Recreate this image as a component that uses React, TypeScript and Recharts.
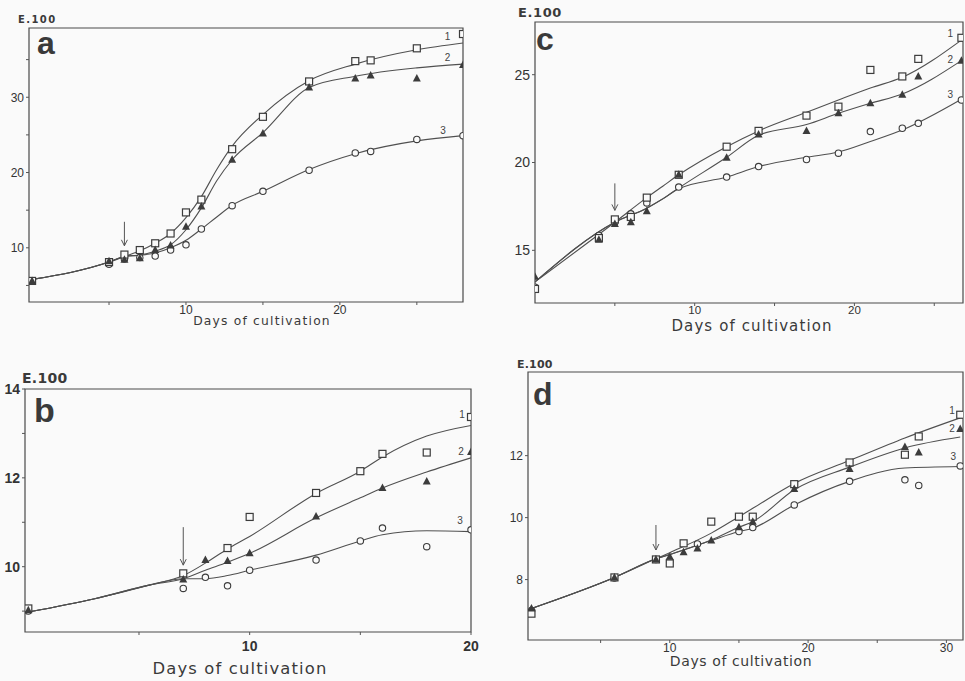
import React from 'react';
import { ComposedChart, Line, Scatter, XAxis, YAxis, ReferenceArea, ReferenceDot } from 'recharts';

// ---- panel a ----
const A_PT_DAYS = [0, 5, 6, 7, 8, 9, 10, 11, 13, 15, 18, 21, 22, 25, 28];
const A_P1 = [5.6, 8.1, 9.1, 9.7, 10.6, 11.9, 14.7, 16.4, 23.1, 27.4, 32.1, 34.8, 34.9, 36.5, 38.4];
const A_P2 = [5.6, 8.2, 8.4, 8.6, 9.7, 10.3, 12.8, 15.5, 21.7, 25.2, 31.3, 32.5, 32.9, 32.5, 34.3];
const A_P3 = [5.6, 7.8, 8.5, 8.7, 8.9, 9.7, 10.4, 12.5, 15.6, 17.5, 20.3, 22.6, 22.8, 24.4, 24.9];
const A_CURVE_DAYS = [0, 5, 6, 7, 8, 9, 10, 11, 12, 13, 15, 18, 21, 25, 28];
const A_C1 = [5.8, 8.1, 8.85, 9.6, 10.6, 11.9, 14.0, 16.8, 20.4, 23.5, 27.7, 32.2, 34.4, 36.3, 37.2];
const A_C2 = [5.8, 8.1, 8.85, 9.05, 9.55, 10.4, 12.4, 15.3, 18.9, 21.7, 25.3, 31.3, 32.8, 33.9, 34.4];
const A_C3 = [5.8, 8.1, 8.85, 9.0, 9.3, 10.0, 11.0, 12.5, 14.1, 15.65, 17.5, 20.4, 22.5, 24.2, 24.9];

// ---- panel b ----
const B_PT_DAYS = [0, 7, 8, 9, 10, 13, 15, 16, 18, 20];
const B_P1 = [9.06, 9.85, null, 10.42, 11.12, 11.66, 12.15, 12.54, 12.57, 13.37];
const B_P2 = [9.02, 9.71, 10.15, 10.13, 10.3, 11.13, null, 11.77, 11.92, 12.58];
const B_P3 = [9.0, 9.51, 9.76, 9.57, 9.92, 10.15, 10.58, 10.87, 10.45, 10.83];
const B_CURVE_DAYS = [0, 3, 5.5, 7, 8, 9, 10, 13, 15, 16, 18, 20];
const B_C1 = [8.98, 9.28, 9.59, 9.8, 10.08, 10.4, 10.68, 11.65, 12.15, 12.47, 12.94, 13.18];
const B_C2 = [8.98, 9.28, 9.59, 9.73, 9.92, 10.1, 10.3, 11.1, 11.55, 11.77, 12.13, 12.45];
const B_C3 = [8.98, 9.28, 9.59, 9.73, 9.73, 9.8, 9.92, 10.26, 10.58, 10.72, 10.81, 10.79];

// ---- panel c ----
const C_PT_DAYS = [0, 4, 5, 6, 7, 9, 12, 14, 17, 19, 21, 23, 24, 26.7];
const C_P1 = [12.8, 15.7, 16.76, 16.9, 18.0, 19.3, 20.9, 21.8, 22.67, 23.18, 25.27, 24.9, 25.9, 27.1];
const C_P2 = [13.5, 15.6, 16.5, 16.6, 17.23, 19.3, 20.27, 21.6, 21.8, 22.8, 23.37, 23.86, 24.9, 25.8];
const C_P3 = [12.9, 15.85, 16.6, 17.08, 17.7, 18.6, 19.17, 19.77, 20.17, 20.53, 21.76, 21.95, 22.23, 23.56];
const C_CURVE_DAYS = [0, 5, 7, 8, 9, 12, 14, 17, 19, 21, 23, 26.7];
const C_C1 = [13.2, 16.6, 18.0, 18.65, 19.3, 20.9, 21.8, 22.86, 23.56, 24.24, 24.85, 26.97];
const C_C2 = [13.2, 16.6, 17.4, 17.93, 18.55, 20.3, 21.55, 22.16, 22.8, 23.37, 23.9, 25.8];
const C_C3 = [13.2, 16.6, 17.4, 17.93, 18.5, 19.17, 19.77, 20.3, 20.6, 21.2, 21.85, 23.6];

// ---- panel d ----
const D_PT_DAYS = [0, 6, 9, 10, 11, 12, 13, 15, 16, 19, 23, 27, 28, 31];
const D_P1 = [6.9, 8.07, 8.65, 8.52, 9.17, null, 9.87, 10.03, 10.03, 11.08, 11.78, 12.03, 12.62, 13.32];
const D_P2 = [7.07, 8.07, 8.65, 8.74, 8.88, 9.0, 9.26, 9.69, 9.87, 10.92, 11.57, 12.28, 12.1, 12.86];
const D_P3 = [7.0, 8.05, 8.65, 8.6, null, 9.15, null, 9.55, 9.68, 10.41, 11.17, 11.22, 11.04, 11.67];
const D_CURVE_DAYS = [0, 6, 9, 10, 13, 15, 16, 19, 23, 27, 31];
const D_C1 = [7.07, 8.07, 8.67, 8.87, 9.5, 10.03, 10.3, 11.1, 11.84, 12.57, 13.22];
const D_C2 = [7.07, 8.07, 8.67, 8.81, 9.28, 9.69, 9.87, 10.9, 11.63, 12.25, 12.6];
const D_C3 = [7.07, 8.07, 8.67, 8.81, 9.26, 9.55, 9.66, 10.41, 11.17, 11.6, 11.65];

const INK = '#3c3c3c';
const PAPER = '#fafafa';
const FONT = '"Liberation Sans", Arial, sans-serif';
const WIDE = '"DejaVu Sans", sans-serif';

const pts = (days: number[], vals: (number | null)[]) =>
  days.map((d, i) => ({ d, v: vals[i] })).filter((p) => p.v !== null);

const Square = (p: any) => (
  <rect x={p.cx - 3.5} y={p.cy - 3.5} width={7} height={7} fill={PAPER} stroke={INK} strokeWidth={1.2} />
);
const Tri = (p: any) => (
  <path d={`M${p.cx},${p.cy - 4.5}L${p.cx + 4},${p.cy + 3}L${p.cx - 4},${p.cy + 3}Z`} fill={INK} />
);
const Circ = (p: any) => <circle cx={p.cx} cy={p.cy} r={3.2} fill={PAPER} stroke={INK} strokeWidth={1.1} />;

const Arrow = (len: number) => (p: any) => (
  <g stroke="#555" strokeWidth={1} fill="none">
    <line x1={p.cx} y1={p.cy - len} x2={p.cx} y2={p.cy - 2} />
    <path d={`M${p.cx - 3},${p.cy - 8}L${p.cx},${p.cy - 2}L${p.cx + 3},${p.cy - 8}`} />
  </g>
);

const CurveLabel = (t: string) => (p: any) => (
  <text x={p.cx} y={p.cy} textAnchor="middle" dominantBaseline="middle" fontSize={10} fill="#444" fontFamily={FONT}>
    {t}
  </text>
);

type PanelProps = {
  box: { left: number; top: number; width: number; height: number };
  margin: { top: number; right: number; bottom: number; left: number };
  yWidth: number;
  xHeight: number;
  xDomain: [number, number];
  yDomain: [number, number];
  xTicks: number[];
  xMajor: number[];
  yTicks: number[];
  yMajor: number[];
  fontSize: number;
  xFontSize?: number;
  fontWeight: number;
  xTickMargin: number;
  curveDays: number[];
  curves: number[][];
  ptDays: number[];
  points: (number | null)[][];
  arrow: { d: number; v: number; len: number };
  labels: { d: number; v: number; t: string }[];
};

const Panel = (p: PanelProps) => {
  const fmt = (majors: number[]) => (v: number) => (majors.includes(v) ? String(v) : '');
  const tick = { fontSize: p.fontSize, fill: '#333', fontFamily: FONT, fontWeight: p.fontWeight };
  const xTick = { ...tick, fontSize: p.xFontSize || p.fontSize };
  return (
    <div style={{ position: 'absolute', left: p.box.left, top: p.box.top }}>
      <ComposedChart width={p.box.width} height={p.box.height} margin={p.margin}>
        <XAxis
          dataKey="d"
          type="number"
          domain={p.xDomain}
          allowDataOverflow
          ticks={p.xTicks}
          tickFormatter={fmt(p.xMajor)}
          height={p.xHeight}
          axisLine={false}
          tickSize={3}
          tickMargin={p.xTickMargin}
          tickLine={{ stroke: '#555' }}
          tick={xTick}
        />
        <YAxis
          dataKey="v"
          type="number"
          domain={p.yDomain}
          allowDataOverflow
          ticks={p.yTicks}
          tickFormatter={fmt(p.yMajor)}
          width={p.yWidth}
          axisLine={false}
          tickSize={3}
          tickMargin={2}
          tickLine={{ stroke: '#555' }}
          tick={tick}
        />
        <ReferenceArea
          x1={p.xDomain[0]}
          x2={p.xDomain[1]}
          y1={p.yDomain[0]}
          y2={p.yDomain[1]}
          fill="none"
          stroke="#4a4a4a"
          strokeWidth={1.2}
          ifOverflow="visible"
        />
        {p.curves.map((c, i) => (
          <Line
            key={'c' + i}
            data={p.curveDays.map((d, j) => ({ d, v: c[j] }))}
            dataKey="v"
            type="monotone"
            stroke="#505050"
            strokeWidth={1.1}
            dot={false}
            activeDot={false}
            isAnimationActive={false}
            legendType="none"
          />
        ))}
        <Scatter data={pts(p.ptDays, p.points[2])} shape={Circ} isAnimationActive={false} />
        <Scatter data={pts(p.ptDays, p.points[0])} shape={Square} isAnimationActive={false} />
        <Scatter data={pts(p.ptDays, p.points[1])} shape={Tri} isAnimationActive={false} />
        <ReferenceDot x={p.arrow.d} y={p.arrow.v} r={0} shape={Arrow(p.arrow.len)} ifOverflow="visible" />
        {p.labels.map((l) => (
          <ReferenceDot key={l.t} x={l.d} y={l.v} r={0} shape={CurveLabel(l.t)} ifOverflow="visible" />
        ))}
      </ComposedChart>
    </div>
  );
};

const Txt = ({ left, top, size, weight, spacing, family, children, center }: any) => (
  <div
    style={{
      position: 'absolute',
      left,
      top,
      fontSize: size,
      fontWeight: weight,
      letterSpacing: spacing || 0,
      lineHeight: 1,
      fontFamily: family || FONT,
      color: '#3a3a3a',
      whiteSpace: 'nowrap',
      transform: center ? 'translateX(-50%)' : undefined,
    }}
  >
    {children}
  </div>
);

export default function App() {
  return (
    <div style={{ position: 'absolute', left: 0, top: 0, width: 965, height: 681, background: PAPER, overflow: 'hidden' }}>
      <Panel
        box={{ left: 0, top: 0, width: 480, height: 340 }}
        margin={{ top: 28, right: 17, bottom: 8, left: 0 }}
        yWidth={29}
        xHeight={30}
        xDomain={[-0.2, 28]}
        yDomain={[2.8, 39.2]}
        xTicks={[5, 10, 15, 20, 25]}
        xMajor={[10, 20]}
        yTicks={[5, 10, 15, 20, 25, 30, 35]}
        yMajor={[10, 20, 30]}
        fontSize={12}
        fontWeight={400}
        xTickMargin={0}
        curveDays={A_CURVE_DAYS}
        curves={[A_C1, A_C2, A_C3]}
        ptDays={A_PT_DAYS}
        points={[A_P1, A_P2, A_P3]}
        arrow={{ d: 6, v: 10.0, len: 26 }}
        labels={[
          { d: 27, v: 37.9, t: '1' },
          { d: 27, v: 35.2, t: '2' },
          { d: 26.7, v: 25.5, t: '3' },
        ]}
      />
      <Panel
        box={{ left: 480, top: 0, width: 485, height: 340 }}
        margin={{ top: 22, right: 2, bottom: 7, left: 0 }}
        yWidth={55}
        xHeight={30}
        xDomain={[0, 26.8]}
        yDomain={[12, 28]}
        xTicks={[5, 10, 15, 20, 25]}
        xMajor={[10, 20]}
        yTicks={[15, 20, 25]}
        yMajor={[15, 20, 25]}
        fontSize={14}
        xFontSize={11.5}
        fontWeight={400}
        xTickMargin={0}
        curveDays={C_CURVE_DAYS}
        curves={[C_C1, C_C2, C_C3]}
        ptDays={C_PT_DAYS}
        points={[C_P1, C_P2, C_P3]}
        arrow={{ d: 5, v: 17.16, len: 29 }}
        labels={[
          { d: 26, v: 27.3, t: '1' },
          { d: 26, v: 25.8, t: '2' },
          { d: 26, v: 23.8, t: '3' },
        ]}
      />
      <Panel
        box={{ left: 0, top: 340, width: 480, height: 341 }}
        margin={{ top: 49, right: 9, bottom: 9, left: 0 }}
        yWidth={25}
        xHeight={40}
        xDomain={[-0.15, 20]}
        yDomain={[8.53, 14]}
        xTicks={[5, 10, 15, 20]}
        xMajor={[10, 20]}
        yTicks={[9, 10, 11, 12, 13, 14]}
        yMajor={[10, 12, 14]}
        fontSize={14}
        fontWeight={700}
        xTickMargin={6}
        curveDays={B_CURVE_DAYS}
        curves={[B_C1, B_C2, B_C3]}
        ptDays={B_PT_DAYS}
        points={[B_P1, B_P2, B_P3]}
        arrow={{ d: 7, v: 9.99, len: 40 }}
        labels={[
          { d: 19.6, v: 13.41, t: '1' },
          { d: 19.55, v: 12.57, t: '2' },
          { d: 19.5, v: 11.03, t: '3' },
        ]}
      />
      <Panel
        box={{ left: 480, top: 340, width: 485, height: 341 }}
        margin={{ top: 32, right: 2, bottom: 11, left: 0 }}
        yWidth={48}
        xHeight={30}
        xDomain={[-0.25, 31.2]}
        yDomain={[6.05, 14.7]}
        xTicks={[5, 10, 15, 20, 25, 30]}
        xMajor={[10, 20, 30]}
        yTicks={[8, 10, 12]}
        yMajor={[8, 10, 12]}
        fontSize={12}
        fontWeight={400}
        xTickMargin={0}
        curveDays={D_CURVE_DAYS}
        curves={[D_C1, D_C2, D_C3]}
        ptDays={D_PT_DAYS}
        points={[D_P1, D_P2, D_P3]}
        arrow={{ d: 9, v: 8.89, len: 27 }}
        labels={[
          { d: 30.4, v: 13.42, t: '1' },
          { d: 30.4, v: 12.84, t: '2' },
          { d: 30.5, v: 11.93, t: '3' },
        ]}
      />

      <Txt left={18} top={14.5} size={10} weight={700} spacing={1.4} family={WIDE}>E.100</Txt>
      <Txt left={518} top={6} size={13} weight={700} spacing={0.6} family={WIDE}>E.100</Txt>
      <Txt left={22} top={371} size={14} weight={700} spacing={0.3} family={WIDE}>E.100</Txt>
      <Txt left={517} top={359} size={11} weight={700} spacing={0.2} family={WIDE}>E.100</Txt>

      <Txt left={37} top={27} size={32} weight={700}>a</Txt>
      <Txt left={536} top={23} size={32} weight={700}>c</Txt>
      <Txt left={34} top={393} size={34} weight={700}>b</Txt>
      <Txt left={533} top={378} size={32} weight={700}>d</Txt>

      <Txt left={262} top={314.5} size={12.3} weight={400} spacing={1.2} family={WIDE} center>Days of cultivation</Txt>
      <Txt left={752} top={319} size={15} weight={400} spacing={1.1} family={WIDE} center>Days of cultivation</Txt>
      <Txt left={240} top={661} size={16.4} weight={400} spacing={1.15} family={WIDE} center>Days of cultivation</Txt>
      <Txt left={741} top={654} size={14} weight={400} spacing={0.6} family={WIDE} center>Days of cultivation</Txt>
    </div>
  );
}
